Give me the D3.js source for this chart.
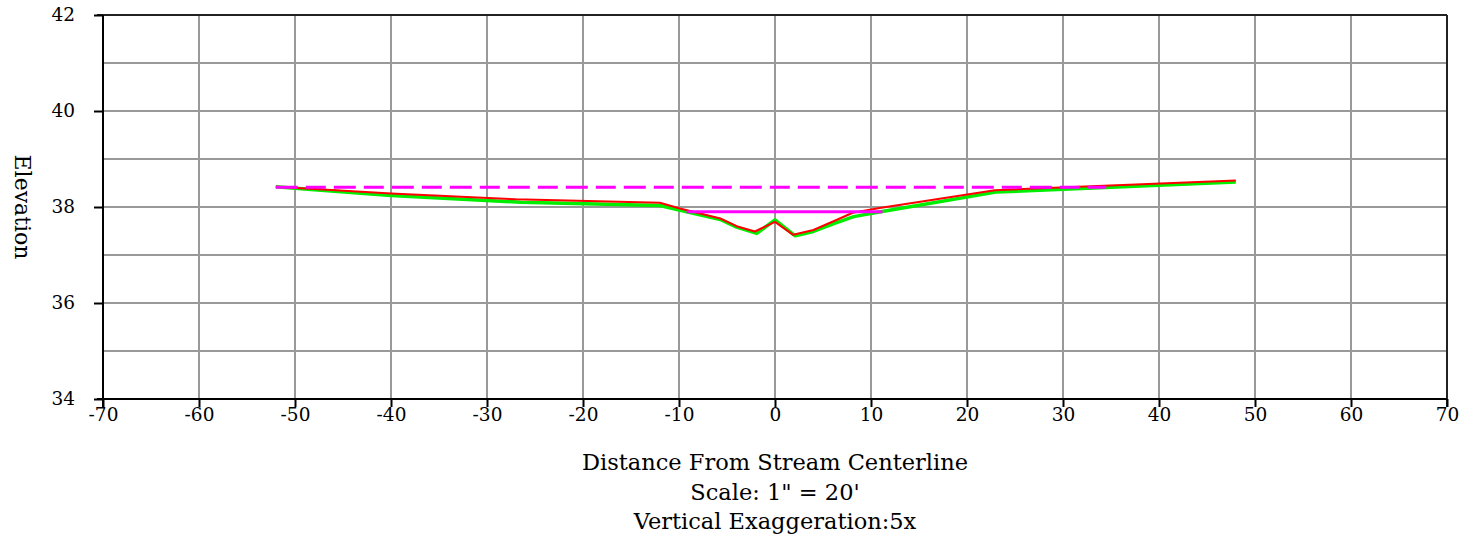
<!DOCTYPE html>
<html><head><meta charset="utf-8">
<script src="https://cdn.jsdelivr.net/npm/d3@7"></script>
<style>
html,body{margin:0;padding:0;background:#fff;}
svg text{font-family:"DejaVu Serif","Liberation Serif",serif;fill:#000;}
</style></head>
<body><svg id="c" width="1477" height="543"></svg>
<script>
const xTicks = [-70,-60,-50,-40,-30,-20,-10,0,10,20,30,40,50,60,70];
const yTicks = [34,36,38,40,42];
const yGrid = [34,35,36,37,38,39,40,41,42];

const existingX = [-52,-40,-27,-12,-9.9,-5.7,-4,-2.1,0,1.9,4,6.4,8.1,10.9,22.9,48];
const existingY = [38.42,38.28,38.16,38.09,37.97,37.76,37.60,37.49,37.69,37.42,37.52,37.73,37.88,37.98,38.35,38.55];

const proposedX = [-52,-48,-40,-26.5,-12,-9.2,-5.7,-4,-1.9,0,2.1,4,6.2,8.2,11,13,23,48];
const proposedY = [38.42,38.36,38.24,38.10,38.03,37.90,37.74,37.58,37.45,37.73,37.40,37.49,37.66,37.80,37.90,37.97,38.31,38.52];

const floodX = [-52,34.5];
const floodY = [38.41,38.41];
const bankfullX = [-9.2,11.2];
const bankfullY = [37.90,37.90];

const titleLines = ["Distance From Stream Centerline","Scale: 1\" = 20'","Vertical Exaggeration:5x"];

const FONT = "DejaVu Serif, Liberation Serif, serif";
const svg = d3.select("#c");
const L=103, R=1447, T=15, B=399;
const x = d3.scaleLinear().domain([-70,70]).range([L,R]);
const y = d3.scaleLinear().domain([34,42]).range([B,T]);

// grid
svg.append("g").selectAll("line").data(xTicks.slice(1,-1)).join("line")
  .attr("x1",d=>x(d)).attr("x2",d=>x(d)).attr("y1",T).attr("y2",B)
  .attr("stroke","#999").attr("stroke-width",2);
svg.append("g").selectAll("line").data(yGrid.slice(1,-1)).join("line")
  .attr("x1",L).attr("x2",R).attr("y1",d=>y(d)).attr("y2",d=>y(d))
  .attr("stroke","#999").attr("stroke-width",2);

// frame
svg.append("line").attr("x1",L-6).attr("x2",R).attr("y1",T).attr("y2",T).attr("stroke","#222").attr("stroke-width",2);
svg.append("line").attr("x1",R).attr("x2",R).attr("y1",T).attr("y2",B+8).attr("stroke","#222").attr("stroke-width",2);

// axes
const xAxis = d3.axisBottom(x).tickValues(xTicks).tickSize(8).tickPadding(1).tickFormat(d3.format("d"));
const gx = svg.append("g").attr("transform",`translate(0,${B})`).call(xAxis);
gx.attr("font-family",FONT).attr("font-size",18.5);
gx.select(".domain").attr("stroke","#000").attr("stroke-width",2).attr("d",`M${L-6},0H${R}`);
gx.selectAll(".tick line").attr("stroke","#000").attr("stroke-width",2);
gx.selectAll(".tick text").attr("fill","#000").text(d=> d<0 ? "-"+Math.abs(d) : d);

const yAxis = d3.axisLeft(y).tickValues(yTicks).tickSize(9).tickPadding(19);
const gy = svg.append("g").attr("transform",`translate(${L},0)`).call(yAxis);
gy.attr("font-family",FONT).attr("font-size",18.5);
gy.select(".domain").attr("stroke","#000").attr("stroke-width",2).attr("d",`M0,${T}V${B+8}`);
gy.selectAll(".tick line").attr("stroke","#000").attr("stroke-width",2);
gy.selectAll(".tick text").attr("fill","#000");

// lines
const line = d3.line().x(d=>x(d[0])).y(d=>y(d[1]));
const zip = (a,b)=>a.map((v,i)=>[v,b[i]]);
svg.append("path").datum(zip(proposedX,proposedY)).attr("d",line).attr("fill","none")
  .attr("stroke","#00ee00").attr("stroke-width",3.5).attr("stroke-linejoin","round");
svg.append("path").datum(zip(existingX,existingY)).attr("d",line).attr("fill","none")
  .attr("stroke","#ff0000").attr("stroke-width",2).attr("stroke-linejoin","round");
svg.append("path").datum(zip(floodX,floodY)).attr("d",line).attr("fill","none")
  .attr("stroke","#ff00ff").attr("stroke-width",3).attr("stroke-dasharray","22,8,20,8");
svg.append("path").datum(zip(bankfullX,bankfullY)).attr("d",line).attr("fill","none")
  .attr("stroke","#ff00ff").attr("stroke-width",3);

// titles
svg.append("g").selectAll("text").data(titleLines).join("text")
  .attr("x",(L+R)/2).attr("y",(d,i)=>470+i*29.5).attr("text-anchor","middle")
  .attr("font-size",22.5).text(d=>d);

svg.append("text").attr("transform",`translate(15,${(T+B)/2}) rotate(90)`)
  .attr("text-anchor","middle").attr("font-size",22).text("Elevation");
</script></body></html>
